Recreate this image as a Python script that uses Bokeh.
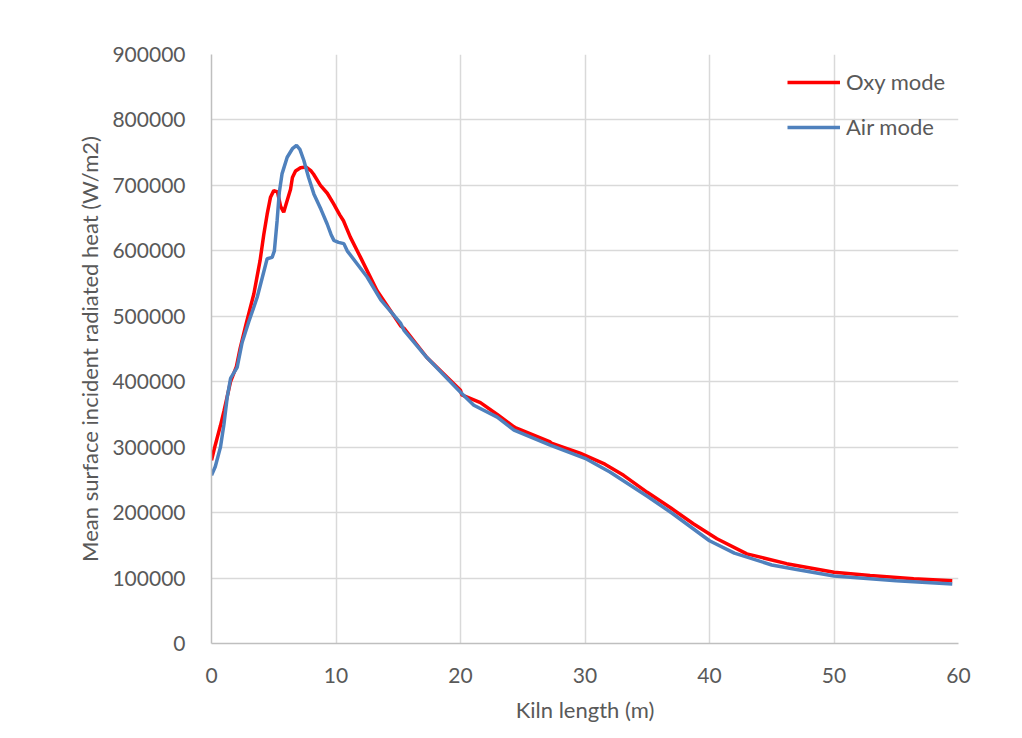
from bokeh.plotting import figure
from bokeh.models import Range1d, FixedTicker, BasicTickFormatter, Legend, LegendItem
from bokeh.embed import file_html
from bokeh.resources import INLINE

# Data
oxy_x = [0, 0.3, 0.72, 1.0, 1.53, 2.0, 2.3, 2.8, 3.4, 3.9, 4.2, 4.47, 4.74, 5.0, 5.3,
         5.55, 5.8, 6.0, 6.35, 6.5, 6.75, 7.15, 7.6, 8.0, 8.2, 8.75, 9.3, 9.8, 10.3,
         10.6, 11.15, 11.97, 13.3, 15.2, 15.5, 17.3, 20.0, 20.1, 21.6, 22.95, 24.3,
         24.5, 27.2, 27.3, 29.6, 31.6, 33.1, 35.0, 36.9, 38.7, 40.6, 43.0, 46.2, 50.0,
         52.9, 56.4, 59.5]
oxy_y = [280000, 303000, 333000, 355000, 400000, 423000, 451000, 490000, 534000,
         585000, 625000, 656000, 682000, 692000, 690000, 668000, 659000, 672000,
         694000, 712000, 722000, 727000, 728000, 722000, 717000, 700000, 688000,
         672000, 655000, 646000, 621000, 590000, 539000, 485000, 481000, 437000,
         387000, 380000, 368000, 350000, 331000, 329000, 308000, 306000, 291000,
         274000, 257000, 231000, 207000, 183000, 160000, 137000, 122000, 109000,
         104000, 99000, 96000]

air_x = [0, 0.3, 0.72, 1.0, 1.26, 1.53, 2.06, 2.46, 3.0, 3.67, 4.2, 4.47, 4.87, 5.05,
         5.27, 5.45, 5.67, 6.08, 6.5, 6.83, 7.1, 7.42, 7.8, 8.22, 8.8, 9.29, 9.6,
         9.83, 10.2, 10.63, 10.9, 12.5, 13.6, 15.2, 15.45, 17.3, 20.0, 21.07, 22.95,
         24.3, 27.2, 30.0, 32.0, 35.0, 37.0, 40.0, 42.0, 45.0, 47.0, 50.0, 55.0, 59.5]
air_y = [257000, 270000, 300000, 335000, 376000, 405000, 422000, 460000, 492000,
         529000, 568000, 588000, 590000, 600000, 646000, 690000, 718000, 743000,
         756000, 761000, 755000, 738000, 712000, 687000, 663000, 641000, 625000,
         616000, 613000, 611000, 600000, 560000, 525000, 489000, 479000, 437000,
         384000, 364000, 346000, 326000, 303000, 283000, 262000, 225000, 199000,
         157000, 138000, 120000, 113000, 103000, 96000, 91000]

x_ticks = [0, 10, 20, 30, 40, 50, 60]
y_ticks = [0, 100000, 200000, 300000, 400000, 500000, 600000, 700000, 800000, 900000]

FONT = "Lato"
TXT = "#595959"
GRID = "#d9d9d9"

p = figure(width=1022, height=738, frame_width=747, frame_height=589,
           min_border_left=211, min_border_right=64, min_border_top=54,
           min_border_bottom=95, output_backend="svg", toolbar_location=None,
           x_range=Range1d(0, 60), y_range=Range1d(0, 900000))

p.outline_line_color = None
p.background_fill_color = "white"
p.border_fill_color = "white"

r1 = p.line(oxy_x, oxy_y, line_color="#ff0000", line_width=3.5)
r2 = p.line(air_x, air_y, line_color="#4f81bd", line_width=3.5)

for ax in (p.xaxis[0], p.yaxis[0]):
    ax.major_tick_line_color = None
    ax.minor_tick_line_color = None
    ax.axis_line_color = "#bfbfbf"
    ax.axis_line_width = 1.5
    ax.major_label_text_color = TXT
    ax.major_label_text_font = FONT
    ax.major_label_text_font_size = "21px"
    ax.axis_label_text_color = TXT
    ax.axis_label_text_font = FONT
    ax.axis_label_text_font_size = "22px"
    ax.axis_label_text_font_style = "normal"
    ax.formatter = BasicTickFormatter(use_scientific=False)

p.xaxis[0].ticker = FixedTicker(ticks=x_ticks)
p.yaxis[0].ticker = FixedTicker(ticks=y_ticks)
p.xaxis[0].major_label_standoff = 18
p.yaxis[0].major_label_standoff = 20
p.xaxis[0].axis_label = "Kiln length (m)"
p.yaxis[0].axis_label = "Mean surface incident radiated heat (W/m2)"
p.xaxis[0].axis_label_standoff = 10
p.yaxis[0].axis_label_standoff = 6

p.xgrid.grid_line_color = GRID
p.ygrid.grid_line_color = GRID
p.xgrid.grid_line_width = 1.5
p.ygrid.grid_line_width = 1.5

legend = Legend(items=[LegendItem(label="Oxy mode", renderers=[r1]),
                       LegendItem(label="Air mode", renderers=[r2])],
                location=(576, 503))
legend.background_fill_alpha = 0
legend.border_line_color = None
legend.padding = 0
legend.margin = 0
legend.glyph_width = 53
legend.glyph_height = 26
legend.label_height = 26
legend.spacing = 18
legend.label_standoff = 6
legend.label_text_font = FONT
legend.label_text_font_size = "22px"
legend.label_text_color = TXT
p.add_layout(legend, "center")

open("out.html", "w").write(file_html(p, INLINE))
